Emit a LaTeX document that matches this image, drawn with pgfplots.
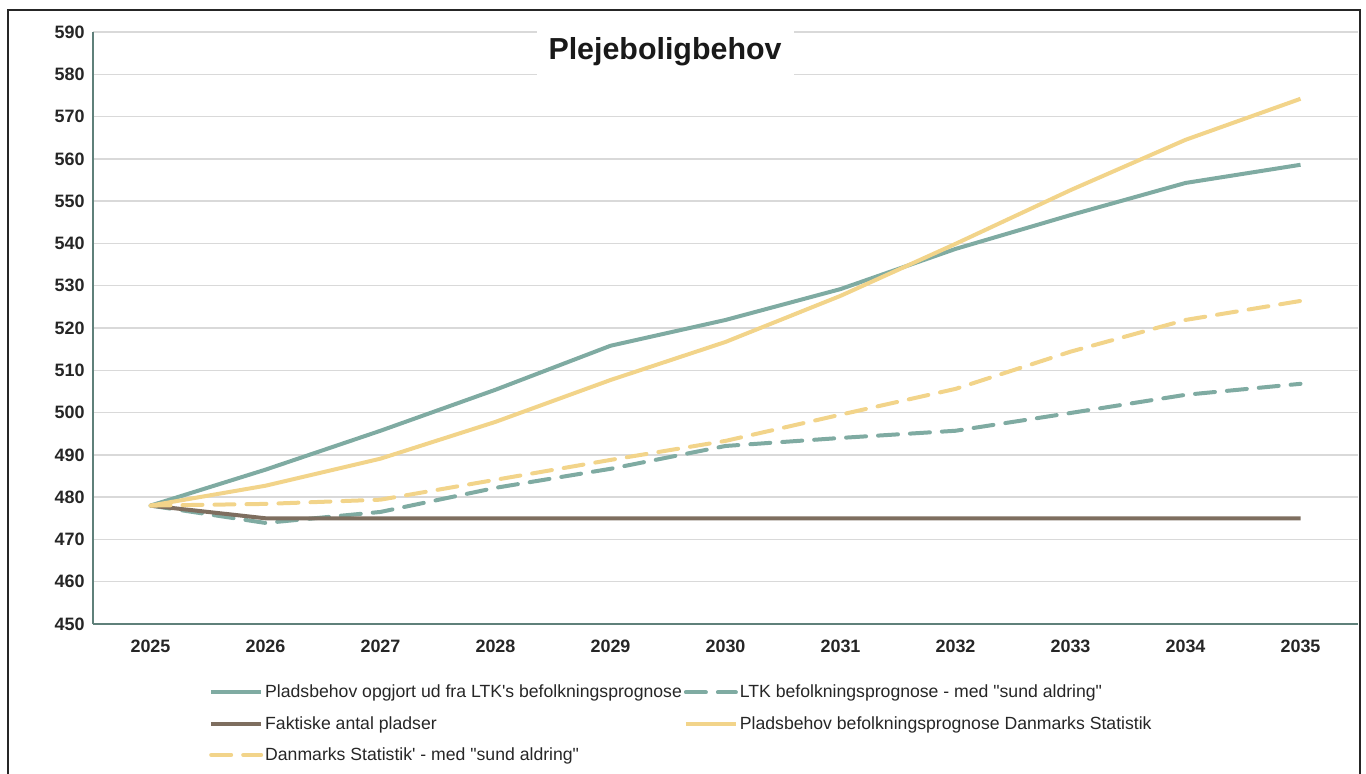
\documentclass[border=0pt]{standalone}
\usepackage{pgfplots}
\pgfplotsset{compat=1.18}
\usepackage{fontspec}
\setmainfont{Liberation Sans}[Ligatures=TeXOff]
\definecolor{cteal}{RGB}{127,171,162}
\definecolor{cyel}{RGB}{242,212,138}
\definecolor{cbrown}{RGB}{126,110,95}
\definecolor{caxis}{RGB}{95,128,122}
\definecolor{cgrid}{RGB}{217,217,217}
\begin{document}
\begin{tikzpicture}
\useasboundingbox (-93bp,-150bp) rectangle (1273bp,624bp);
\draw[line width=1.5bp, black!85] (-85bp,-170bp) -- (-85bp,614bp) -- (1267bp,614bp) -- (1267bp,-170bp);
\begin{axis}[
  at={(0,0)}, anchor=south west,
  scale only axis, width=1265bp, height=592bp,
  xmin=-0.5, xmax=10.5, ymin=450, ymax=590,
  xtick={0,...,10},
  xticklabels={2025,2026,2027,2028,2029,2030,2031,2032,2033,2034,2035},
  ytick={450,460,...,590},
  major tick length=0pt,
  ymajorgrids, grid style={cgrid, line width=1.3bp},
  axis x line*=bottom, axis y line*=left,
  axis line style={caxis, line width=1.3bp},
  /pgf/number format/assume math mode=true,
  tick label style={font=\fontsize{18}{21}\selectfont\bfseries, text=black!85},
  yticklabel style={xshift=-5bp},
  xticklabel style={yshift=-12bp},
  legend columns=2,
  legend style={draw=none, fill=none, at={(113bp,-57bp)}, anchor=north west,
    font=\fontsize{17.7}{20}\selectfont, text=black!85, row sep=13bp,
    nodes={inner sep=2bp}},
  legend cell align=left,
  legend image code/.code={\draw[#1] (0bp,0bp) -- (50bp,0bp);},
]
\addplot[cteal, line width=4bp] coordinates {(0,478) (1,486.5) (2,495.7) (3,505.4) (4,515.8) (5,521.9) (6,529.2) (7,538.7) (8,546.7) (9,554.3) (10,558.6)};
\addlegendentry{Pladsbehov opgjort ud fra LTK's befolkningsprognose}
\addplot[cteal, line width=4bp, dash pattern=on 20bp off 12bp, line cap=round] coordinates {(0,478) (1,473.9) (2,476.5) (3,482.2) (4,486.7) (5,492.1) (6,494.0) (7,495.7) (8,499.9) (9,504.2) (10,506.8)};
\addlegendentry{LTK befolkningsprognose - med "sund aldring"}
\addplot[cbrown, line width=4bp] coordinates {(0,478) (1,475) (2,475) (3,475) (4,475) (5,475) (6,475) (7,475) (8,475) (9,475) (10,475)};
\addlegendentry{Faktiske antal pladser}
\addplot[cyel, line width=4bp] coordinates {(0,478) (1,482.7) (2,489.1) (3,497.8) (4,507.7) (5,516.7) (6,527.6) (7,539.9) (8,552.6) (9,564.5) (10,574.2)};
\addlegendentry{Pladsbehov befolkningsprognose Danmarks Statistik}
\addplot[cyel, line width=4bp, dash pattern=on 20bp off 12bp, line cap=round] coordinates {(0,478) (1,478.4) (2,479.4) (3,484.1) (4,488.8) (5,493.3) (6,499.5) (7,505.6) (8,514.4) (9,521.9) (10,526.4)};
\addlegendentry{Danmarks Statistik' - med "sund aldring"}
\end{axis}
\node[fill=white, inner xsep=12bp, inner ysep=10bp, font=\fontsize{30.5}{34}\selectfont\bfseries, text=black!90] at (572bp,572bp) {Plejeboligbehov};
\end{tikzpicture}
\end{document}
